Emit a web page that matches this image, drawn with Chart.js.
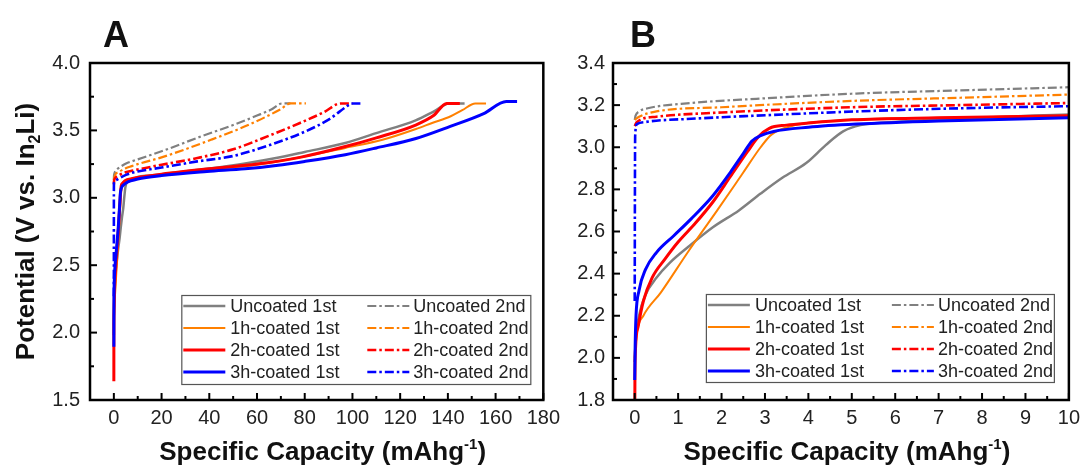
<!DOCTYPE html>
<html>
<head>
<meta charset="utf-8">
<script src="https://cdn.jsdelivr.net/npm/chart.js@4.4.1/dist/chart.umd.min.js"></script>
<style>
  html, body { margin: 0; padding: 0; background: #fff; }
  #wrap { position: relative; width: 1086px; height: 468px; overflow: hidden; }
  .panel { position: absolute; top: 0; height: 468px; }
  #boxA { left: 0; width: 566px; }
  #boxB { left: 543px; width: 543px; }
</style>
</head>
<body>
<div id="wrap">
  <div class="panel" id="boxA"><canvas id="chartA"></canvas></div>
  <div class="panel" id="boxB"><canvas id="chartB"></canvas></div>
</div>
<script>
const FONT = '"Liberation Sans", Arial, sans-serif';

// tick labels
const xTicksA = [0, 20, 40, 60, 80, 100, 120, 140, 160, 180];
const yTicksA = [1.5, 2.0, 2.5, 3.0, 3.5, 4.0];
const xTicksB = [0, 1, 2, 3, 4, 5, 6, 7, 8, 9, 10];
const yTicksB = [1.8, 2.0, 2.2, 2.4, 2.6, 2.8, 3.0, 3.2, 3.4];

// series names (legend: column 1 = 1st cycle, column 2 = 2nd cycle)
const seriesLabels = [
  "Uncoated 1st", "1h-coated 1st", "2h-coated 1st", "3h-coated 1st",
  "Uncoated 2nd", "1h-coated 2nd", "2h-coated 2nd", "3h-coated 2nd"
];
const seriesColors = ["#808080", "#ff8000", "#ff0000", "#0000ff"];

// [capacity mAh/g, potential V]
const uncoated1st = [[0,1.98],[0.03,2.1],[0.1,2.2],[0.25,2.3],[0.5,2.38],[0.8,2.45],[1.25,2.53],[1.8,2.62],[2.4,2.7],[2.9,2.78],[3.4,2.855],[3.95,2.925],[4.4,3.01],[4.8,3.075],[5.2,3.105],[6,3.12],[8,3.14],[10,3.155],[15,3.165],[25,3.185],[39,3.215],[55,3.255],[68,3.295],[80,3.34],[97,3.406],[110,3.48],[126.5,3.575],[134,3.64],[140.5,3.7],[147,3.7]];
const coated1h1st = [[0,2.0],[0.05,2.12],[0.2,2.2],[0.6,2.31],[1.25,2.51],[1.9,2.7],[2.5,2.88],[2.9,3.0],[3.15,3.06],[3.6,3.1],[5,3.13],[7,3.14],[10,3.15],[20,3.17],[40,3.21],[60,3.245],[78,3.3],[97,3.37],[112.6,3.43],[126.6,3.51],[133.4,3.555],[141.2,3.605],[146,3.65],[151.5,3.7],[156,3.7]];
const coated2h1st = [[0,1.64],[0.005,1.9],[0.02,2.05],[0.08,2.15],[0.2,2.27],[0.4,2.38],[0.7,2.47],[1.0,2.55],[1.4,2.64],[1.8,2.74],[2.2,2.86],[2.6,2.98],[2.85,3.05],[3.1,3.09],[3.5,3.105],[4,3.115],[5,3.13],[7,3.14],[10,3.15],[20,3.175],[40,3.215],[60,3.25],[78,3.3],[97,3.38],[110,3.445],[126.5,3.54],[134,3.61],[139.5,3.7],[145,3.7]];
const coated3h1st = [[0,1.895],[0.01,2.05],[0.03,2.2],[0.1,2.32],[0.25,2.42],[0.5,2.5],[0.9,2.58],[1.3,2.66],[1.8,2.77],[2.2,2.88],[2.5,2.97],[2.7,3.03],[2.9,3.055],[3.2,3.075],[4,3.095],[5.1,3.11],[7,3.125],[10,3.14],[20,3.165],[39,3.195],[55,3.215],[68,3.24],[80,3.27],[97,3.32],[110,3.37],[126.6,3.44],[141,3.53],[155,3.625],[164.5,3.715],[169,3.715]];
const uncoated2nd = [[0,3.13],[0.02,3.15],[0.1,3.17],[0.3,3.185],[1.3,3.21],[2.8,3.23],[5.1,3.255],[7.5,3.27],[10,3.285],[20,3.345],[36.5,3.455],[50,3.54],[60,3.61],[66,3.655],[70.5,3.7],[74,3.7]];
const coated1h2nd = [[0,3.13],[0.1,3.145],[0.5,3.17],[2,3.19],[5,3.22],[7.5,3.235],[10,3.25],[20,3.3],[40.7,3.43],[55,3.53],[69.7,3.655],[74,3.7],[80.5,3.7]];
const coated2h2nd = [[0,3.1],[0.05,3.12],[0.5,3.145],[2,3.165],[5,3.19],[7.5,3.2],[10,3.21],[20,3.245],[35,3.295],[50,3.36],[65,3.46],[78,3.555],[88,3.635],[95,3.7],[100,3.7]];
const coated3h2nd = [[0,2.27],[0.005,2.8],[0.01,3.05],[0.05,3.11],[0.25,3.12],[1.3,3.135],[2.8,3.15],[5.1,3.17],[7.5,3.185],[10,3.195],[20,3.225],[35,3.27],[50,3.31],[65,3.39],[80,3.49],[90,3.58],[98.5,3.69],[99.5,3.7],[103.5,3.7]];

const seriesData = [uncoated1st, coated1h1st, coated2h1st, coated3h1st,
                    uncoated2nd, coated1h2nd, coated2h2nd, coated3h2nd];

const DASHDOT = [9, 3, 2.5, 3];
const solidWidths = [2.5, 2, 3, 3];
const dashWidths = [2.2, 2.2, 2.6, 2.6];

function makeDatasets() {
  return seriesData.map((pts, i) => {
    const k = i % 4;
    const second = i >= 4;
    return {
      label: seriesLabels[i],
      data: pts.map(p => ({ x: p[0], y: p[1] })),
      borderColor: seriesColors[k],
      borderWidth: second ? dashWidths[k] : solidWidths[k],
      borderDash: second ? DASHDOT : [],
      pointRadius: 0,
      cubicInterpolationMode: "monotone",
      fill: false,
      order: second ? 8 - k : 4 - k
    };
  });
}

function richText(ctx, parts, cx, y) {
  let w = 0;
  parts.forEach(p => { ctx.font = `bold ${p[1]}px ${FONT}`; w += ctx.measureText(p[0]).width; });
  let x = cx - w / 2;
  ctx.textAlign = "left";
  ctx.textBaseline = "alphabetic";
  parts.forEach(p => {
    ctx.font = `bold ${p[1]}px ${FONT}`;
    ctx.fillText(p[0], x, y + p[2]);
    x += ctx.measureText(p[0]).width;
  });
}

const decor = {
  id: "decor",
  afterDatasetsDraw(chart, args, o) {
    const { ctx, chartArea: a, scales } = chart;
    const xs = scales.x, ys = scales.y;
    ctx.save();
    ctx.strokeStyle = "#000";
    ctx.lineWidth = 2;

    const near = (v, arr) => arr.some(t => Math.abs(t - v) < 1e-6);
    // major + minor ticks, pointing inward
    const drawX = (v, len) => {
      const px = xs.getPixelForValue(v);
      ctx.beginPath(); ctx.moveTo(px, a.bottom); ctx.lineTo(px, a.bottom - len); ctx.stroke();
    };
    const drawY = (v, len) => {
      const py = ys.getPixelForValue(v);
      ctx.beginPath(); ctx.moveTo(a.left, py); ctx.lineTo(a.left + len, py); ctx.stroke();
    };
    o.xTicks.forEach(v => drawX(v, 7));
    o.yTicks.forEach(v => drawY(v, 7));
    for (let k = Math.ceil(xs.min / o.xMinor); k * o.xMinor < xs.max; k++) {
      const v = Math.round(k * o.xMinor * 1000) / 1000;
      if (v <= xs.min || near(v, o.xTicks)) continue;
      drawX(v, 4);
    }
    for (let k = Math.ceil(ys.min / o.yMinor); k * o.yMinor < ys.max; k++) {
      const v = Math.round(k * o.yMinor * 1000) / 1000;
      if (v <= ys.min || near(v, o.yTicks)) continue;
      drawY(v, 4);
    }

    // frame
    ctx.lineWidth = 2.5;
    ctx.strokeRect(a.left, a.top, a.right - a.left, a.bottom - a.top);

    // legend box
    const L = o.legend;
    const lx = a.right - L.right - L.w, ly = a.bottom - L.bottom - L.h;
    ctx.fillStyle = "#fff";
    ctx.fillRect(lx, ly, L.w, L.h);
    ctx.strokeStyle = "#555";
    ctx.lineWidth = 1.2;
    ctx.strokeRect(lx + 0.5, ly + 0.5, L.w, L.h);
    ctx.font = `18px ${FONT}`;
    ctx.textBaseline = "middle";
    ctx.textAlign = "left";
    const ds = chart.data.datasets;
    for (let r = 0; r < 4; r++) {
      const ry = ly + 11 + r * 22;
      [[ds[r], 2, 44, 49], [ds[r + 4], 186, 228, 232]].forEach(([d, x1, x2, tx]) => {
        ctx.strokeStyle = d.borderColor;
        ctx.lineWidth = d.borderWidth;
        ctx.setLineDash(d.borderDash);
        ctx.beginPath(); ctx.moveTo(lx + x1, ry); ctx.lineTo(lx + x2, ry); ctx.stroke();
        ctx.setLineDash([]);
        ctx.fillStyle = "#222";
        ctx.fillText(d.label, lx + tx, ry + 1);
      });
    }
    ctx.restore();
  },
  afterDraw(chart, args, o) {
    const { ctx, chartArea: a } = chart;
    ctx.save();
    ctx.fillStyle = "#111";
    // panel letter
    ctx.font = `bold 36px ${FONT}`;
    ctx.textAlign = "left";
    ctx.textBaseline = "alphabetic";
    ctx.fillText(o.letter, o.letterX, 47);
    // x title
    richText(ctx, [["Specific Capacity (mAhg", 26, 0], ["-1", 15, -11], [")", 26, 0]],
             (a.left + a.right) / 2 + 6, 460);
    // y title
    if (o.yTitle) {
      ctx.translate(34, (a.top + a.bottom) / 2);
      ctx.rotate(-Math.PI / 2);
      richText(ctx, [["Potential (V vs. In", 26, 0], ["2", 16, 6], ["Li)", 26, 0]], 0, 0);
    }
    ctx.restore();
  }
};

function makeChart(id, cfg) {
  return new Chart(document.getElementById(id), {
    type: "line",
    data: { datasets: makeDatasets() },
    plugins: [decor],
    options: {
      responsive: true,
      maintainAspectRatio: false,
      animation: false,
      devicePixelRatio: 1,
      layout: { padding: { left: 0, top: 63, right: cfg.padRight, bottom: 0 } },
      plugins: {
        legend: { display: false },
        tooltip: { enabled: false },
        decor: cfg.decor
      },
      scales: {
        x: {
          type: "linear",
          min: cfg.xMin, max: cfg.xMax,
          grid: { display: false, drawTicks: false },
          border: { display: false },
          afterBuildTicks: s => { s.ticks = cfg.decor.xTicks.map(v => ({ value: v })); },
          afterFit: s => { s.height = 68; },
          ticks: {
            padding: 6,
            color: "#222",
            font: { family: FONT, size: 20 },
            maxRotation: 0,
            autoSkip: false,
            callback: v => String(v)
          }
        },
        y: {
          type: "linear",
          min: cfg.yMin, max: cfg.yMax,
          grid: { display: false, drawTicks: false },
          border: { display: false },
          afterBuildTicks: s => { s.ticks = cfg.decor.yTicks.map(v => ({ value: v })); },
          afterFit: s => { s.width = cfg.yWidth; },
          ticks: {
            padding: cfg.yPad,
            color: "#222",
            font: { family: FONT, size: 20 },
            autoSkip: false,
            callback: v => Number(v).toFixed(1)
          }
        }
      }
    }
  });
}

makeChart("chartA", {
  xMin: -10, xMax: 180, yMin: 1.5, yMax: 4.0,
  padRight: 19, yWidth: 90, yPad: 10,
  decor: {
    letter: "A", letterX: 103, yTitle: true,
    xTicks: xTicksA, yTicks: yTicksA, xMinor: 10, yMinor: 0.25,
    legend: { right: 13, bottom: 16, w: 349, h: 89 }
  }
});

makeChart("chartB", {
  xMin: -0.5, xMax: 10, yMin: 1.8, yMax: 3.4,
  padRight: 13, yWidth: 70, yPad: 8,
  decor: {
    letter: "B", letterX: 87, yTitle: false,
    xTicks: xTicksB, yTicks: yTicksB, xMinor: 0.5, yMinor: 0.1,
    legend: { right: 15, bottom: 18, w: 348, h: 88 }
  }
});
</script>
</body>
</html>
